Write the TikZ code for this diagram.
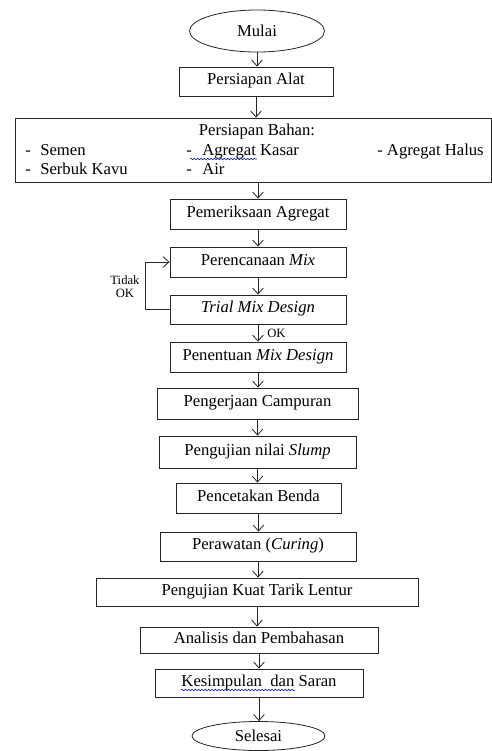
\documentclass[tikz,border=0pt]{standalone}
\usepackage{fontspec}
\setmainfont{Liberation Serif}
\usetikzlibrary{arrows.meta,shapes.geometric,decorations.pathmorphing}
\begin{document}
\begin{tikzpicture}[x=0.75pt,y=-0.75pt,
  every node/.style={font=\fontsize{12.5}{15}\selectfont},
  procbox/.style={draw=black!85,line width=0.6pt,inner sep=0pt,text height=0.7em,text depth=0.2em},
  term/.style={draw=black!85,line width=0.6pt,ellipse,inner sep=0pt},
  flow/.style={draw=black!85,line width=0.6pt,-{Straight Barb[length=4.5pt,width=8pt]}},
  txt/.style={inner sep=0pt,anchor=west,text height=0.7em,text depth=0.2em},
  small/.style={font=\fontsize{9.5}{10}\selectfont,inner sep=0pt,align=center},
  squig/.style={draw=blue!70!black,line width=0.4pt,decorate,decoration={snake,amplitude=0.6pt,segment length=2.5pt}}]
\useasboundingbox (0,0) rectangle (492,751);

\node[term,minimum width={135*0.75pt},minimum height={42*0.75pt}] (mulai) at (257,31) {Mulai};
\node[procbox,minimum width={154*0.75pt},minimum height={29*0.75pt}] (alat) at (256,81.5) {Persiapan Alat};
\node[draw=black!85,line width=0.6pt,inner sep=0pt,minimum width={476*0.75pt},minimum height={64*0.75pt}] (bahan) at (253,150) {};
\node[txt,anchor=center] (bahanT) at (257,132) {Persiapan Bahan:};
\node[txt] (d1) at (25,152) {-};
\node[txt] (semen) at (40,152) {Semen};
\node[txt] (d2) at (25,171) {-};
\node[txt] (serbuk) at (40,171) {Serbuk Kavu};
\node[txt] (d3) at (186,152) {-};
\node[txt] (kasar) at (202,152) {Agregat Kasar};
\node[txt] (d4) at (186,171) {-};
\node[txt] (air) at (202,171) {Air};
\node[txt] (halus) at (377,152) {- Agregat Halus};

\node[procbox,minimum width={176*0.75pt},minimum height={30*0.75pt}] (periksa) at (258,214) {Pemeriksaan Agregat};
\node[procbox,minimum width={176*0.75pt},minimum height={30*0.75pt}] (rencana) at (258,262) {Perencanaan \textit{Mix}};
\node[procbox,minimum width={176*0.75pt},minimum height={29*0.75pt}] (trial) at (258,309.5) {\textit{Trial Mix Design}};
\node[procbox,minimum width={176*0.75pt},minimum height={30*0.75pt}] (tentu) at (258,357) {Penentuan \textit{Mix Design}};
\node[procbox,minimum width={201*0.75pt},minimum height={31*0.75pt}] (kerja) at (257.5,403.5) {Pengerjaan Campuran};
\node[procbox,minimum width={197*0.75pt},minimum height={32*0.75pt}] (slump) at (257.5,452) {Pengujian nilai \textit{Slump}};
\node[procbox,minimum width={165*0.75pt},minimum height={30*0.75pt}] (cetak) at (258.5,498) {Pencetakan Benda};
\node[procbox,minimum width={196*0.75pt},minimum height={29*0.75pt}] (rawat) at (258,546.5) {Perawatan (\textit{Curing})};
\node[procbox,minimum width={322*0.75pt},minimum height={28*0.75pt}] (lentur) at (257,592) {Pengujian Kuat Tarik Lentur};
\node[procbox,minimum width={238*0.75pt},minimum height={26*0.75pt}] (analisis) at (259,640) {Analisis dan Pembahasan};
\node[procbox,minimum width={208*0.75pt},minimum height={28*0.75pt}] (simpul) at (259,683) {Kesimpulan\ \ dan Saran};
\node[term,minimum width={133*0.75pt},minimum height={29*0.75pt}] (selesai) at (258.5,736) {Selesai};

% arrows
\draw[flow] (mulai.south) -- (mulai.south |- alat.north);
\draw[flow] (alat.south) -- (alat.south |- bahan.north);
\draw[flow] (bahan.south -| periksa.north) -- (periksa.north);
\draw[flow] (periksa) -- (rencana);
\draw[flow] (rencana) -- (trial);
\draw[flow] (trial) -- (tentu);
\draw[flow] (tentu.south) -- (tentu.south |- kerja.north);
\draw[flow] (kerja.south) -- (kerja.south |- slump.north);
\draw[flow] (slump.south) -- (slump.south |- cetak.north);
\draw[flow] (cetak.south) -- (cetak.south |- rawat.north);
\draw[flow] (rawat.south) -- (rawat.south |- lentur.north);
\draw[flow] (lentur.south) -- (lentur.south |- analisis.north);
\draw[flow] (analisis.south) -- (analisis.south |- simpul.north);
\draw[flow] (simpul.south) -- (simpul.south |- selesai.north);

% loop
\coordinate (lb) at (145,309.5);
\coordinate (lt) at (145,262);
\draw[flow] (trial.west) -- (lb) -- (lt) -- (rencana.west);
\node[small] (tidak) at (125,286.5) {Tidak\\OK};
\node[small,anchor=west] (ok) at (267,333) {OK};

% spell-check squiggles
\draw[squig] (190,159) -- (257,159);
\draw[squig] (181,690) -- (295,690);
\end{tikzpicture}
\end{document}
